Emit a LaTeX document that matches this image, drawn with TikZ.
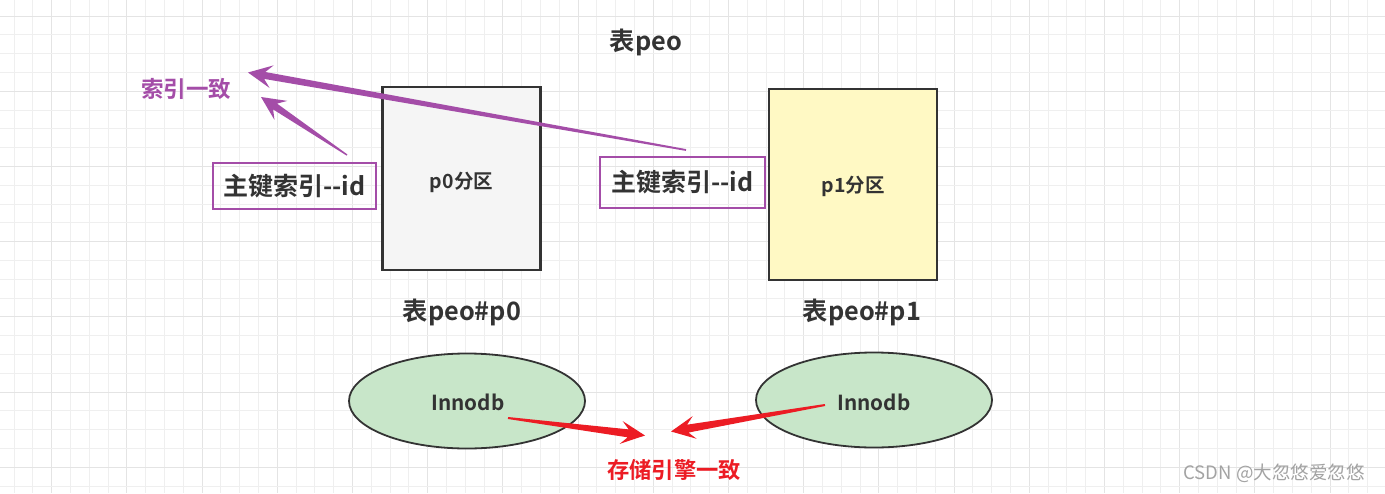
\documentclass[tikz,border=0pt]{standalone}
\usepackage{fontspec}
\setmainfont{Noto Sans CJK SC}[BoldFont={Noto Sans CJK SC Bold}]
\usetikzlibrary{calc,shapes.geometric}
\definecolor{txt}{HTML}{333333}
\definecolor{purp}{HTML}{A44DA8}
\definecolor{redc}{HTML}{EC1C24}
\definecolor{boxgray}{HTML}{F5F5F5}
\definecolor{boxyel}{HTML}{FFF9C4}
\definecolor{ellg}{HTML}{C8E6C9}
\definecolor{gridminor}{HTML}{EFEFEF}
\definecolor{gridmajor}{HTML}{E4E4E4}
\definecolor{wm}{HTML}{A3A3A3}
\newcommand{\taparrow}[5]{% color, tail, tip, shaft half width at head, tail half width
  \path ($(#3)!24pt!(#2)$) coordinate (hb) ($(#3)!17pt!(#2)$) coordinate (hn);
  \fill[#1] ($(#2)!#5!90:(#3)$) -- ($(hn)!#4!90:(#3)$) -- ($(hb)!11.5pt!90:(#3)$) -- (#3)
    -- ($(hb)!11.5pt!-90:(#3)$) -- ($(hn)!#4!-90:(#3)$) -- ($(#2)!#5!-90:(#3)$) -- cycle;}
\begin{document}
\begin{tikzpicture}[x=1pt,y=-1pt,
  partbox/.style={draw=txt,line width=2.4pt,inner sep=0pt},
  idbox/.style={draw=purp,line width=1.8pt,inner sep=0pt,text=txt,font=\fontsize{25}{28}\selectfont\bfseries},
  engine/.style={ellipse,draw=txt,line width=1.8pt,fill=ellg,minimum width=236pt,minimum height=95pt,inner sep=0pt},
  lbl/.style={text=txt,font=\fontsize{25.3}{28}\selectfont\bfseries,inner sep=0pt},
  small/.style={text=txt,font=\fontsize{19.5}{22}\selectfont\bfseries,inner sep=0pt}]
\useasboundingbox (0,0) rectangle (1385,493);
\fill[white] (0,0) rectangle (1385,493);
\foreach \i in {0,...,73} {
  \pgfmathsetmacro{\gx}{14+18.8*\i}
  \pgfmathtruncatemacro{\m}{mod(\i,4)}
  \ifnum\m=2 \draw[gridmajor,line width=0.9pt] (\gx,0) -- (\gx,493);
  \else \draw[gridminor,line width=0.9pt] (\gx,0) -- (\gx,493); \fi
}
\foreach \j in {0,...,25} {
  \pgfmathsetmacro{\gy}{16+18.8*\j}
  \pgfmathtruncatemacro{\m}{mod(\j,4)}
  \ifnum\m=0 \draw[gridmajor,line width=0.9pt] (0,\gy) -- (1385,\gy);
  \else \draw[gridminor,line width=0.9pt] (0,\gy) -- (1385,\gy); \fi
}
% title
\node[lbl] (title) at (646,42) {表peo};
% partitions
\node[partbox,fill=boxgray,minimum width=158pt,minimum height=183pt] (p0) at (461.5,178.5) {};
\node[small] (p0t) at (461.5,182) {p0分区};
\node[partbox,fill=boxyel,minimum width=168pt,minimum height=191pt] (p1) at (853,184.5) {};
\node[small] (p1t) at (853,186) {p1分区};
% index label boxes
\node[idbox,minimum width=163pt,minimum height=46pt] (id0) at (294.5,186) {主键索引{-}{-}id};
\node[idbox,minimum width=165pt,minimum height=51pt] (id1) at (682.5,182.5) {主键索引{-}{-}id};
% table labels
\node[lbl] (t0) at (462,312) {表peo\#p0};
\node[lbl] (t1) at (862,312) {表peo\#p1};
% engines
\node[engine] (e0) at (467,401) {};
\node[small,font=\fontsize{20.7}{24}\selectfont\bfseries] (e0t) at (468,402) {Innodb};
\node[engine] (e1) at (874,400) {};
\node[small,font=\fontsize{20.7}{24}\selectfont\bfseries] (e1t) at (874,402) {Innodb};
% result labels
\node[text=purp,font=\fontsize{22.5}{26}\selectfont\bfseries,inner sep=0pt] (idx) at (186,89) {索引一致};
\node[text=redc,font=\fontsize{22.3}{26}\selectfont\bfseries,inner sep=0pt] (eng) at (674,470) {存储引擎一致};
\node[text=wm,font=\fontsize{18.5}{21}\selectfont,inner sep=0pt] (wmk) at (1274,473) {CSDN @大忽悠爱忽悠};
% arrow endpoints
\coordinate (a1s) at (347,155);
\coordinate (a1e) at (261,97);
\coordinate (a2s) at (686,150);
\coordinate (a2e) at (248,72.5);
\coordinate (r1s) at (508,418);
\coordinate (r1e) at (645,435.5);
\coordinate (r2s) at (825,405);
\coordinate (r2e) at (671,431.5);
\taparrow{purp}{a1s}{a1e}{3.5pt}{0.7pt}
\taparrow{purp}{a2s}{a2e}{3.5pt}{0.9pt}
\taparrow{redc}{r1s}{r1e}{4pt}{1pt}
\taparrow{redc}{r2s}{r2e}{4pt}{1pt}
\end{tikzpicture}
\end{document}
